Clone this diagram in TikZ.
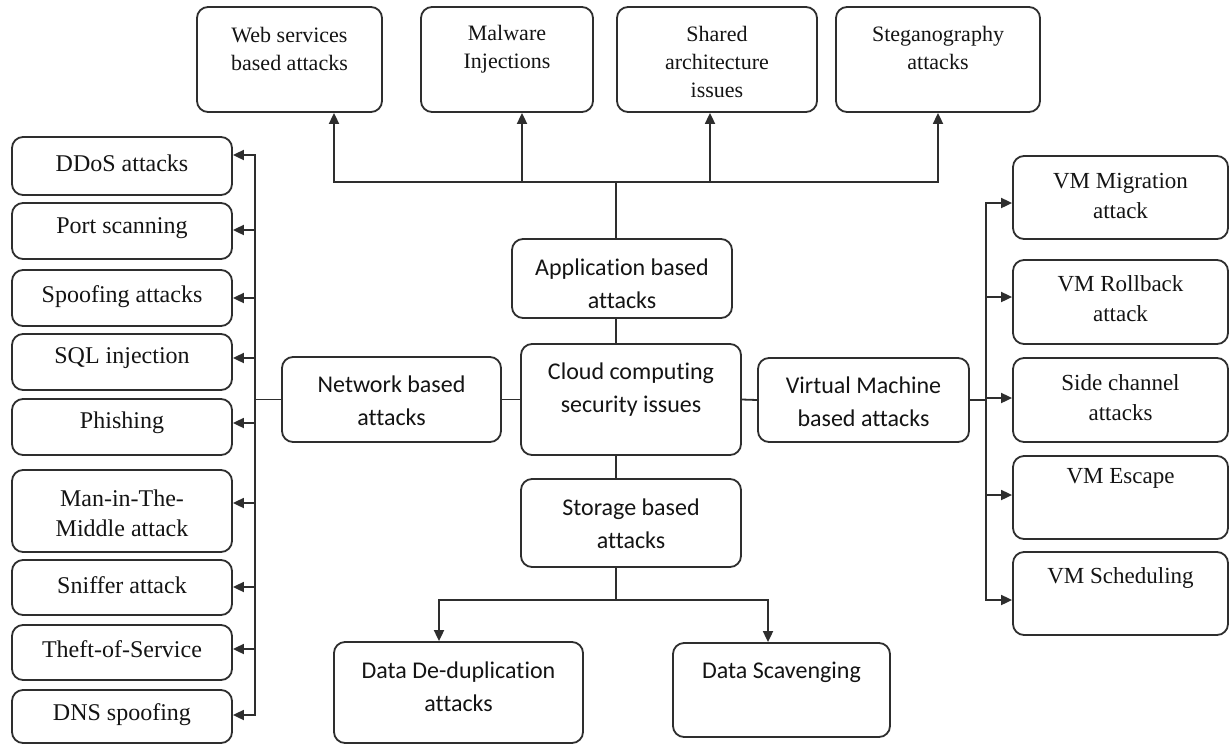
\documentclass[tikz,border=0pt]{standalone}
\usepackage{fontspec}
\setmainfont{Liberation Serif}
\newfontfamily\boxsans[Ligatures=NoCommon]{Carlito}
\usetikzlibrary{arrows.meta,calc}

\definecolor{linecol}{HTML}{2E2E2E}
\definecolor{txtcol}{HTML}{141414}

\tikzset{
  box/.style={draw=linecol, line width=1.8pt, rounded corners=11pt, inner sep=0pt, fill=white},
  conn/.style={draw=linecol, line width=1.8pt},
  arr/.style={conn, -{Triangle[length=11pt,width=10pt]}},
  toptxt/.style={align=center, text=txtcol, inner sep=0pt, font=\fontsize{22}{28}\selectfont},
  sidetxt/.style={align=center, text=txtcol, inner sep=0pt, font=\fontsize{24}{30}\selectfont},
  vmtxt/.style={align=center, text=txtcol, inner sep=0pt, font=\fontsize{23}{30}\selectfont},
  sanstxt/.style={align=center, text=txtcol, inner sep=0pt, font=\boxsans\fontsize{24}{33}\selectfont},
}

% \cbox{name}{cx}{cy}{width}{height}{text style}{text offset}{text}
\newcommand{\cbox}[8]{%
  \node[box, minimum width=#4pt, minimum height=#5pt,
        label={[#6, yshift=#7pt]center:{#8}}] (#1) at (#2,#3) {};}

\begin{document}
\begin{tikzpicture}[x=1pt, y=-1pt]
  \useasboundingbox (0,0) rectangle (1231,745);

  % top row
  \cbox{web}{289.5}{59.5}{185}{105}{toptxt}{10.5}{Web services\\based attacks}
  \cbox{mal}{507}{59.5}{172}{105}{toptxt}{10.5}{Malware\\Injections}
  \cbox{sha}{717}{59.5}{200}{105}{toptxt}{-2.5}{Shared\\architecture\\issues}
  \cbox{ste}{938}{59.5}{204}{105}{toptxt}{11.5}{Steganography\\attacks}

  % central column
  \cbox{app}{622}{278.5}{220}{79}{sanstxt}{-5}{Application based\\attacks}
  \cbox{center}{631}{399.5}{220}{111}{sanstxt}{9.5}{Cloud computing\\security issues}
  \cbox{net}{391.5}{399.5}{219}{85}{sanstxt}{-1.5}{Network based\\attacks}
  \cbox{vm}{863.5}{400}{211}{84}{sanstxt}{-2}{Virtual Machine\\based attacks}
  \cbox{stor}{631}{523}{220}{88}{sanstxt}{-0.5}{Storage based\\attacks}
  \cbox{dedup}{458.5}{692.5}{249}{101}{sanstxt}{6}{Data De-duplication\\attacks}
  \cbox{scav}{781.5}{690}{217}{94}{sanstxt}{18}{Data Scavenging}

  % network attacks column
  \cbox{ddos}{122}{166}{220}{58}{sidetxt}{3}{DDoS attacks}
  \cbox{port}{122}{231}{220}{56}{sidetxt}{3}{Port scanning}
  \cbox{spoof}{122}{298}{220}{56}{sidetxt}{1}{Spoofing attacks}
  \cbox{sql}{122}{362}{220}{56}{sidetxt}{4}{SQL injection}
  \cbox{phish}{122}{427}{220}{56}{sidetxt}{4}{Phishing}
  \cbox{mitm}{122}{511}{220}{82}{sidetxt}{-2}{Man-in-The-\\Middle attack}
  \cbox{sniff}{122}{587.5}{220}{55}{sidetxt}{2.5}{Sniffer attack}
  \cbox{theft}{122}{652.5}{220}{55}{sidetxt}{3.5}{Theft-of-Service}
  \cbox{dns}{122}{716.5}{220}{53}{sidetxt}{1.5}{DNS spoofing}

  % virtual machine attacks column
  \cbox{mig}{1120.5}{197.5}{215}{83}{vmtxt}{1.5}{VM Migration\\attack}
  \cbox{roll}{1120.5}{302}{215}{84}{vmtxt}{3}{VM Rollback\\attack}
  \cbox{side}{1120.5}{400}{215}{84}{vmtxt}{2}{Side channel\\attacks}
  \cbox{esc}{1120.5}{497.5}{215}{83}{vmtxt}{19.5}{VM Escape}
  \cbox{sched}{1120.5}{593.5}{215}{83}{vmtxt}{15.5}{VM Scheduling}

  % junction points of the buses
  \coordinate (topbus) at (616,182);
  \coordinate (botbus) at (616,600);
  \coordinate (lbus) at (255,399.5);
  \coordinate (rbus) at (986,400);

  % application branch
  \draw[conn] ([xshift=-15pt]center.north) -- ([xshift=-6pt]app.south);
  \draw[conn] ([xshift=-6pt]app.north) -- (topbus);
  \draw[arr] (topbus) -| ([xshift=44.5pt]web.south);
  \draw[arr] (topbus) -| ([xshift=15pt]mal.south);
  \draw[arr] (topbus) -| ([xshift=-7pt]sha.south);
  \draw[arr] (topbus) -| (ste.south);

  % storage branch
  \draw[conn] ([xshift=-15pt]center.south) -- ([xshift=-15pt]stor.north);
  \draw[conn] ([xshift=-15pt]stor.south) -- (botbus);
  \draw[arr] (botbus) -| ([xshift=-19.5pt]dedup.north);
  \draw[arr] (botbus) -| ([xshift=-13.5pt]scav.north);

  % network branch
  \draw[conn] (net.east) -- (center.west);
  \draw[conn] (net.west) -- (lbus);
  \draw[arr] (lbus) |- ([yshift=11pt]ddos.east);
  \draw[arr] (lbus) |- ([yshift=1pt]port.east);
  \draw[arr] (lbus) |- (spoof.east);
  \draw[arr] (lbus) |- ([yshift=4pt]sql.east);
  \draw[arr] (lbus) |- ([yshift=4pt]phish.east);
  \draw[arr] (lbus) |- ([yshift=8pt]mitm.east);
  \draw[arr] (lbus) |- ([yshift=0.5pt]sniff.east);
  \draw[arr] (lbus) |- ([yshift=3.5pt]theft.east);
  \draw[arr] (lbus) |- ([yshift=1.5pt]dns.east);

  % virtual machine branch
  \draw[conn] (center.east) -- (vm.west);
  \draw[conn] (vm.east) -- (rbus);
  \draw[arr] (rbus) |- ([yshift=-5.5pt]mig.west);
  \draw[arr] (rbus) |- ([yshift=5pt]roll.west);
  \draw[arr] (rbus) |- ([yshift=2pt]side.west);
  \draw[arr] (rbus) |- ([yshift=2.5pt]esc.west);
  \draw[arr] (rbus) |- ([yshift=-6.5pt]sched.west);
\end{tikzpicture}
\end{document}
